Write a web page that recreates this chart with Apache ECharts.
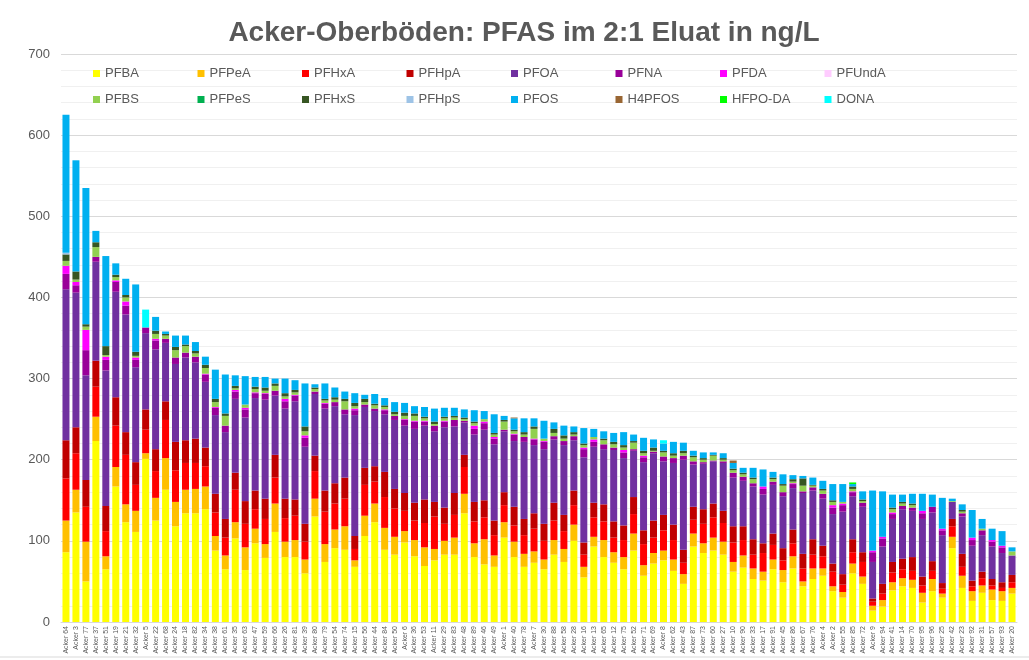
<!DOCTYPE html>
<html>
<head>
<meta charset="utf-8">
<title>Acker-Oberböden PFAS</title>
<script src="https://cdn.jsdelivr.net/npm/echarts@6/dist/echarts.min.js"></script>
<style>
  html, body { margin: 0; padding: 0; background: #fff; }
  #chart { width: 1029px; height: 660px; }
</style>
</head>
<body>
<div id="chart"></div>
<script>
var categories = [
  "Acker 64", "Acker 3", "Acker 77", "Acker 37", "Acker 51", "Acker 19", "Acker 21", "Acker 32", "Acker 5", "Acker 22",
  "Acker 68", "Acker 24", "Acker 18", "Acker 82", "Acker 34", "Acker 38", "Acker 61", "Acker 35",
  "Acker 63", "Acker 47", "Acker 59", "Acker 66", "Acker 26", "Acker 81", "Acker 39", "Acker 80", "Acker 79", "Acker 54",
  "Acker 74", "Acker 15", "Acker 56", "Acker 44", "Acker 84", "Acker 50", "Acker 6", "Acker 36", "Acker 53", "Acker 11",
  "Acker 29", "Acker 83", "Acker 48", "Acker 89", "Acker 46", "Acker 49", "Acker 1", "Acker 40", "Acker 78", "Acker 7",
  "Acker 30", "Acker 88", "Acker 58", "Acker 28", "Acker 16", "Acker 13", "Acker 65", "Acker 12", "Acker 75",
  "Acker 52", "Acker 71", "Acker 69", "Acker 8", "Acker 62", "Acker 43", "Acker 87", "Acker 73", "Acker 60", "Acker 27",
  "Acker 10", "Acker 90", "Acker 33", "Acker 17", "Acker 91", "Acker 45", "Acker 86", "Acker 67", "Acker 76",
  "Acker 4", "Acker 2", "Acker 55", "Acker 85", "Acker 72", "Acker 9", "Acker 94", "Acker 41", "Acker 14", "Acker 70",
  "Acker 95", "Acker 96", "Acker 25", "Acker 42", "Acker 23", "Acker 92", "Acker 31", "Acker 57", "Acker 93", "Acker 20"
];

// values in ng/L, one per sample (same order as categories)
var pfba = [86,135,50,223,65,167,123,111,201,125,163,118,134,134,139,88,65,103,
  64,97,79,111,80,80,60,130,74,91,89,68,106,123,89,83,98,81,69,76,
  83,83,134,80,71,68,104,80,68,73,65,83,74,100,55,93,80,73,65,
  88,57,72,76,63,47,93,85,88,83,62,67,53,51,65,49,66,44,53,
  57,38,30,60,47,14,19,39,44,42,24,38,30,91,42,26,36,27,26,35];
var pfpea = [39,28,49,30,16,24,22,26,7,28,39,30,29,30,28,18,17,20,
  28,18,17,35,19,21,17,22,22,23,29,8,25,23,27,22,14,20,23,14,
  17,21,24,17,31,14,19,19,16,14,12,18,16,20,13,12,21,13,15,
  21,13,13,12,14,12,16,12,16,16,12,15,13,11,12,15,15,6,13,
  9,6,7,12,9,6,8,10,10,10,12,15,5,14,15,12,9,13,12,7];
var pfhxa = [52,45,43,37,31,51,61,32,29,33,47,39,33,32,25,29,22,40,
  29,24,31,32,29,30,22,34,40,32,34,14,38,27,38,35,25,24,30,40,
  21,28,33,27,27,25,21,20,23,28,23,24,22,24,15,24,23,18,21,
  24,26,19,25,24,14,17,24,25,23,24,19,17,23,18,12,16,16,17,
  15,18,9,14,18,5,8,12,11,11,9,10,6,13,11,6,9,5,4,7];
var pfhpa = [47,32,33,32,31,35,28,28,25,27,23,35,28,30,23,23,23,21,
  28,23,25,28,24,20,22,19,26,25,26,16,21,19,31,24,22,22,29,18,
  20,27,15,24,21,18,16,23,20,19,21,22,20,18,15,18,21,20,18,
  21,17,21,19,19,16,16,18,17,15,20,17,19,12,14,15,17,18,19,
  13,10,13,16,12,4,12,13,13,17,11,12,7,9,16,7,8,8,7,9];
var pfoa = [186,166,129,122,167,130,145,117,94,123,72,96,102,94,81,97,107,91,
  103,114,122,73,111,121,95,76,101,95,78,149,75,68,71,85,83,91,91,87,
  99,82,40,83,87,94,75,81,95,84,92,78,86,62,105,69,68,88,83,
  57,84,83,66,76,111,52,56,52,59,60,56,65,60,60,64,51,75,60,
  58,61,77,53,56,45,46,53,61,57,71,60,59,21,46,43,45,40,36,24];
var pfna = [19,9,31,6,13,12,11,9,7,11,5,8,6,7,9,9,8,9,
  10,6,7,6,9,7,11,3,6,5,6,6,3,3,5,5,7,9,5,7,
  7,8,2,7,8,7,2,8,6,7,9,4,5,5,10,6,6,3,7,
  2,6,2,6,6,5,4,2,1,2,6,5,4,7,4,5,5,2,4,
  6,8,8,5,5,12,10,6,4,4,7,7,6,0,4,7,6,6,7,0];
var pfda = [10,4,25,0,4,2,5,3,0,2,0,0,0,0,1,1,0,2,
  2,1,1,0,3,1,3,0,1,0,0,2,0,0,1,0,1,1,1,0,
  1,0,0,4,2,2,0,1,0,1,1,0,0,0,2,3,0,0,3,
  0,2,0,0,0,0,0,0,0,0,0,0,0,3,0,0,1,0,0,
  0,3,2,1,0,2,2,2,0,0,3,0,2,0,0,3,0,2,2,0];
var pfunda = [];
var pfbs = [6,3,4,12,2,4,5,2,0,6,4,9,8,4,7,6,12,2,
  4,4,3,6,3,3,5,3,3,3,10,3,3,4,3,2,4,6,3,2,
  3,3,2,3,3,3,10,3,3,12,3,4,3,2,3,3,5,4,3,
  8,3,1,5,3,3,5,3,6,2,3,3,5,0,3,8,2,7,2,
  4,4,2,3,2,0,0,4,3,3,0,0,0,1,2,0,2,0,0,5];
var pfpes = [];
var pfhxs = [8,10,3,6,11,3,3,5,0,4,2,4,2,3,4,4,3,3,
  0,3,4,3,4,3,6,2,2,3,3,4,4,2,2,3,4,3,2,3,
  2,2,2,2,0,2,2,2,3,3,0,5,4,3,2,0,2,3,3,
  2,3,4,2,3,3,2,2,1,2,2,2,2,0,2,2,3,9,1,
  2,2,0,3,2,0,0,2,2,2,0,0,0,0,2,0,0,0,0,0];
var pfhps = [2,0,0,0,0,0,0,0,0,0,0,0,0,0,0,0,0,0,
  0,0,0,0,0,0,0,0,0,0,0,0,0,0,0,0,0,0,0,0,
  0,0,0,0,0,0,0,0,0,0,0,0,0,0,0,0,0,0,0,
  0,0,0,0,0,0,0,0,0,0,0,0,0,0,0,0,0,0,0,
  0,0,0,0,0,0,0,0,0,0,0,0,0,0,0,0,0,0,0,0];
var pfos = [170,137,168,14,111,14,20,83,0,17,3,14,11,11,10,36,48,13,
  35,12,13,6,18,12,53,4,19,12,9,12,5,12,9,12,12,9,12,16,
  11,10,10,14,10,23,5,14,17,10,22,8,12,7,19,10,9,11,16,
  8,16,10,9,14,10,6,7,3,6,7,6,12,21,7,12,5,3,9,
  10,20,22,3,10,74,56,16,9,12,21,15,38,3,7,34,12,14,18,5];
var h4pfos = [0,0,0,0,0,0,0,0,0,0,0,0,0,0,0,0,0,0,
  0,0,0,0,0,0,0,0,0,0,0,0,0,0,0,0,0,0,0,0,
  0,0,0,0,0,0,0,1,0,0,0,0,0,0,0,0,0,0,0,
  0,0,0,0,0,0,0,0,0,0,3,0,0,0,0,0,0,0,0,
  0,0,0,0,0,0,0,0,0,0,0,0,0,0,0,0,0,0,0,0];
var hfpoda = [0,0,0,0,0,0,0,0,0,0,0,0,0,0,0,0,0,0,
  0,0,0,0,0,0,0,0,0,0,0,0,0,0,0,0,0,0,0,0,
  0,0,0,0,0,0,0,0,0,0,0,0,0,0,0,0,0,0,0,
  0,0,0,0,0,0,0,0,0,0,0,0,0,0,0,0,0,0,0,
  0,0,0,2,0,0,0,0,0,0,0,0,0,0,0,0,0,0,0,0];
var dona = [0,0,0,0,0,0,0,0,22,0,0,0,0,0,0,0,0,0,
  0,0,0,0,0,0,0,0,0,0,0,0,0,0,0,0,0,0,0,0,
  0,0,0,0,0,0,0,0,0,0,0,0,0,0,0,0,0,0,0,
  0,0,0,4,0,0,0,0,0,0,0,0,0,0,0,0,0,0,0,
  0,0,0,0,0,0,0,0,0,0,0,0,0,0,0,0,0,0,0,0];

var yTicks = [0, 100, 200, 300, 400, 500, 600, 700];

var seriesList = [
  { name: "PFBA", data: pfba, color: "#FFFF00" },
  { name: "PFPeA", data: pfpea, color: "#FFC000" },
  { name: "PFHxA", data: pfhxa, color: "#FF0000" },
  { name: "PFHpA", data: pfhpa, color: "#C00000" },
  { name: "PFOA", data: pfoa, color: "#7030A0" },
  { name: "PFNA", data: pfna, color: "#990099" },
  { name: "PFDA", data: pfda, color: "#FF00FF" },
  { name: "PFUndA", data: pfunda, color: "#FFCCFF" },
  { name: "PFBS", data: pfbs, color: "#92D050" },
  { name: "PFPeS", data: pfpes, color: "#00B050" },
  { name: "PFHxS", data: pfhxs, color: "#375623" },
  { name: "PFHpS", data: pfhps, color: "#9DC3E6" },
  { name: "PFOS", data: pfos, color: "#00B0F0" },
  { name: "H4PFOS", data: h4pfos, color: "#996633" },
  { name: "HFPO-DA", data: hfpoda, color: "#00FF00" },
  { name: "DONA", data: dona, color: "#00FFFF" }
];

// one legend per entry, laid out in a 8 x 2 grid like the original
var legends = seriesList.map(function(s, i) {
  return {
    data: [s.name],
    left: 88 + (i % 8) * 104.5,
    top: 62 + Math.floor(i / 8) * 26,
    icon: "rect",
    itemWidth: 7,
    itemHeight: 7,
    textStyle: { color: "#595959", fontSize: 13, fontFamily: "Liberation Sans" }
  };
});

var chart = echarts.init(document.getElementById("chart"));
chart.setOption({
  animation: false,
  textStyle: { fontFamily: "Liberation Sans" },
  title: {
    text: "Acker-Oberböden: PFAS im 2:1 Eluat in ng/L",
    left: 519,
    top: 14,
    textAlign: "center",
    textStyle: { fontSize: 28, fontWeight: "bold", color: "#595959", fontFamily: "Liberation Sans" }
  },
  legend: legends,
  grid: { left: 61, right: 12, top: 54, bottom: 38 },
  xAxis: {
    type: "category",
    data: categories,
    axisLine: { lineStyle: { color: "#d9d9d9" } },
    axisTick: { show: false },
    axisLabel: { interval: 0, rotate: 90, fontSize: 7, color: "#595959", margin: 4 }
  },
  yAxis: {
    type: "value",
    min: yTicks[0],
    max: yTicks[yTicks.length - 1],
    interval: 100,
    axisLine: { show: false },
    axisTick: { show: false },
    axisLabel: { fontSize: 13, color: "#595959", margin: 11 },
    splitLine: { lineStyle: { color: "#d9d9d9" } },
    minorTick: { show: false, splitNumber: 5 },
    minorSplitLine: { show: true, lineStyle: { color: "#f0f0f0" } }
  },
  graphic: [
    { type: "line", shape: { x1: 0, y1: 657, x2: 1029, y2: 657 }, style: { stroke: "#d9d9d9", lineWidth: 1 } }
  ],
  series: seriesList.map(function(s) {
    return {
      name: s.name,
      type: "bar",
      stack: "total",
      barWidth: 7,
      data: s.data,
      itemStyle: { color: s.color }
    };
  })
});
</script>
</body>
</html>
